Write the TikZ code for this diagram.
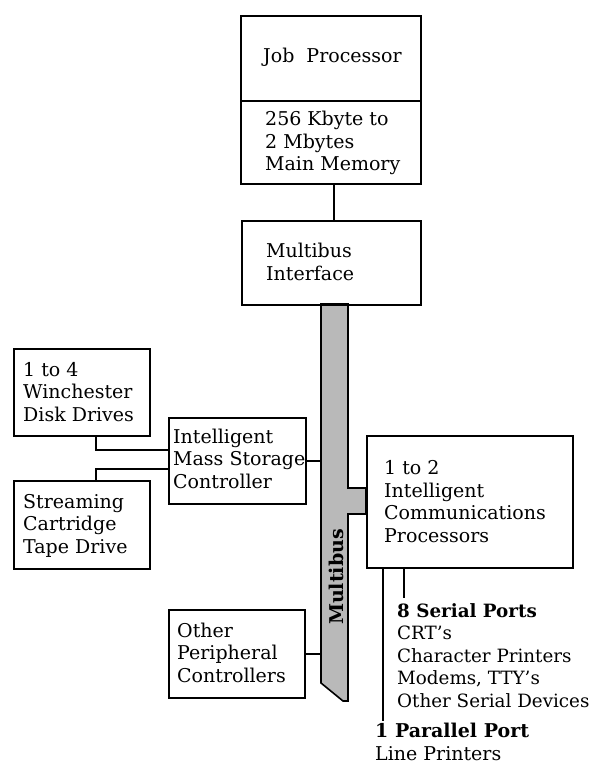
\documentclass[tikz,border=0pt]{standalone}
\usepackage{fontspec}
\setmainfont{DejaVu Serif}
\begin{document}
\begin{tikzpicture}[x=1pt,y=-1pt,
  box/.style={draw,line width=1.6pt,rectangle,inner sep=0,anchor=north west},
  txt/.style={anchor=base west,inner sep=0,align=left,font=\fontsize{19}{22.5}\selectfont},
  wire/.style={line width=1.6pt},
  bus/.style={fill=gray!55,draw,line width=1.6pt}]
\useasboundingbox (0,0) rectangle (595,770);
\fill[white] (0,0) rectangle (595,770);
% bus
\filldraw[bus] (321,304) -- (321,683) -- (343,701) -- (348,701) -- (348,514) -- (366,514) -- (366,488) -- (348,488) -- (348,304) -- cycle;
\node[rotate=90,font=\bfseries\fontsize{19}{19}\selectfont,inner sep=0] (buslbl) at (336,577) {Multibus};
\coordinate (busL) at (321,0);
% boxes
\node[box,minimum width=180pt,minimum height=85pt] (jp) at (240,15) {};
\node[box,minimum width=180pt,minimum height=83pt] (mem) at (240,100) {};
\node[box,minimum width=179pt,minimum height=84pt] (mbi) at (241,220) {};
\node[box,minimum width=136pt,minimum height=87pt] (win) at (13,348) {};
\node[box,minimum width=137pt,minimum height=86pt] (imsc) at (168,417) {};
\node[box,minimum width=136pt,minimum height=88pt] (tape) at (13,480) {};
\node[box,minimum width=136pt,minimum height=88pt] (opc) at (168,609) {};
\node[box,minimum width=206pt,minimum height=132pt] (icp) at (366,435) {};
% texts (anchored at the baseline of the last line)
\node[txt] (jpt) at (263,63) {Job\ \ Processor};
\node[txt] (memt) at (265,171) {256 Kbyte to\\2 Mbytes\\Main Memory};
\node[txt] (mbit) at (266,280) {Multibus\\Interface};
\node[txt] (wint) at (23,421) {1 to 4\\Winchester\\Disk Drives};
\node[txt] (imsct) at (173,488) {Intelligent\\Mass Storage\\Controller};
\node[txt] (tapet) at (23,553) {Streaming\\Cartridge\\Tape Drive};
\node[txt] (opct) at (177,682) {Other\\Peripheral\\Controllers};
\node[txt] (icpt) at (384,542) {1 to 2\\Intelligent\\Communications\\Processors};
\node[txt,font=\fontsize{18.3}{22.5}\selectfont] (ser) at (397,707) {\textbf{8 Serial Ports}\\CRT's\\Character Printers\\Modems, TTY's\\Other Serial Devices};
\node[txt] (par) at (375,760) {\textbf{1 Parallel Port}\\Line Printers};
% connectors
\draw[wire] ([xshift=3pt]mem.south) -- ([xshift=3pt]mem.south |- mbi.north);
\draw[wire] (imsc.east) -- (imsc.east -| busL);
\draw[wire] (opc.east) -- (opc.east -| busL);
\draw[wire] ([xshift=14pt]win.south) |- ([yshift=11pt]imsc.west);
\draw[wire] ([xshift=14pt]tape.north) |- ([yshift=-8pt]imsc.west);
\draw[wire] ([xshift=17pt]icp.south west) coordinate (pp) -- ([yshift=2pt]pp |- par.north);
\draw[wire] ([xshift=38pt]icp.south west) coordinate (sp) -- ([yshift=5pt]sp |- ser.north);
\end{tikzpicture}
\end{document}
